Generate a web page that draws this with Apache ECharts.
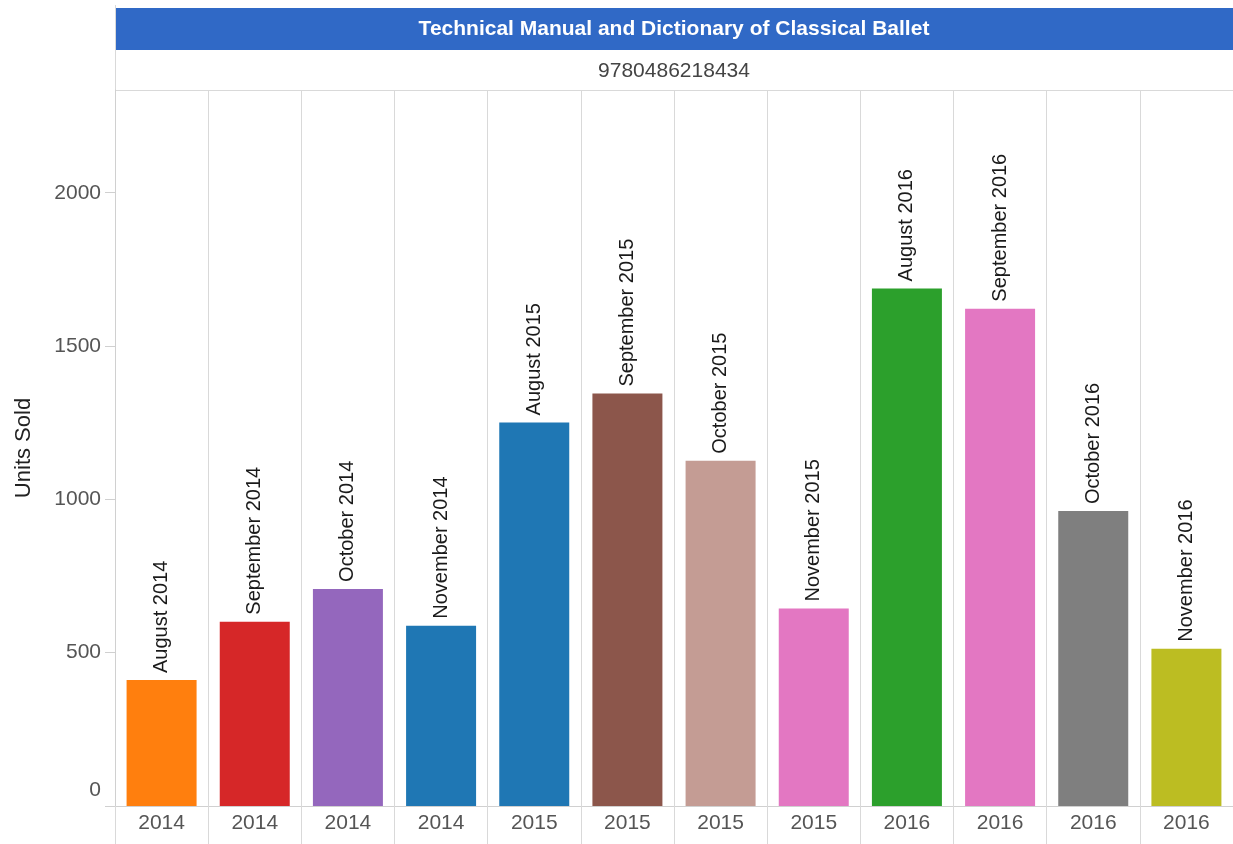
<!DOCTYPE html>
<html>
<head>
<meta charset="utf-8">
<script src="https://cdn.jsdelivr.net/npm/echarts@6/dist/echarts.min.js"></script>
<style>
html,body{margin:0;padding:0;background:#fff;}
#chart{width:1233px;height:844px;}
</style>
</head>
<body>
<div id="chart"></div>
<script>
const titleText = 'Technical Manual and Dictionary of Classical Ballet';
const subtitleText = '9780486218434';
const months = ['August 2014','September 2014','October 2014','November 2014',
                'August 2015','September 2015','October 2015','November 2015',
                'August 2016','September 2016','October 2016','November 2016'];
const years = ['2014','2014','2014','2014','2015','2015','2015','2015','2016','2016','2016','2016'];
const unitsSold = [411, 601, 708, 588, 1251, 1345, 1126, 644, 1688, 1622, 962, 513];
const barColors = ['#ff7f0e','#d62728','#9467bd','#1f77b4','#1f77b4','#8c564b',
                   '#c49c94','#e377c2','#2ca02c','#e377c2','#7f7f7f','#bcbd22'];
const yTicks = [0, 500, 1000, 1500, 2000];
const yAxisName = 'Units Sold';

const chart = echarts.init(document.getElementById('chart'));
const font = 'Arial, "Liberation Sans", sans-serif';

chart.setOption({
  animation: false,
  textStyle: { fontFamily: font },
  title: [
    { text: titleText, left: 674, top: 19, textAlign: 'center', padding: 0,
      textStyle: { color: '#fff', fontSize: 21, fontWeight: 'bold', fontFamily: font } },
    { text: subtitleText, left: 674, top: 61, textAlign: 'center', padding: 0,
      textStyle: { color: '#444', fontSize: 21, fontWeight: 'normal', fontFamily: font } }
  ],
  graphic: [
    { type: 'rect', z: -1, shape: { x: 115, y: 8, width: 1118, height: 42 }, style: { fill: '#3069c6' } },
    { type: 'line', shape: { x1: 115.5, y1: 5, x2: 115.5, y2: 90 }, style: { stroke: '#d9d9d9', lineWidth: 1 } },
    { type: 'line', shape: { x1: 115, y1: 90.5, x2: 1233, y2: 90.5 }, style: { stroke: '#d9d9d9', lineWidth: 1 } }
  ],
  grid: { left: 115, right: 0, top: 90, bottom: 38, containLabel: false },
  xAxis: {
    type: 'category',
    data: months,
    boundaryGap: true,
    axisLine: { show: true, lineStyle: { color: '#d0d0d0', width: 1 } },
    axisTick: { show: true, interval: 0, length: 38, lineStyle: { color: '#d9d9d9' } },
    splitLine: { show: true, interval: 0, lineStyle: { color: '#d9d9d9', width: 1 } },
    axisLabel: {
      interval: 0, margin: 7, color: '#555', fontSize: 21, fontFamily: font,
      formatter: (v, i) => years[i]
    }
  },
  yAxis: {
    type: 'value',
    min: 0,
    max: 2335,
    name: yAxisName,
    nameLocation: 'middle',
    nameRotate: 90,
    nameGap: 80,
    nameTextStyle: { color: '#222', fontSize: 22, fontFamily: font },
    axisLine: { show: true, lineStyle: { color: '#d0d0d0', width: 1 } },
    axisTick: { show: true, length: 10, customValues: yTicks, lineStyle: { color: '#d0d0d0' } },
    splitLine: { show: false },
    axisLabel: {
      customValues: yTicks,
      margin: 14, color: '#555', fontSize: 21, fontFamily: font,
      formatter: v => v === 0 ? '{z|0}' : String(v),
      rich: { z: { padding: [0, 0, 32, 0], fontSize: 21, color: '#555', fontFamily: font } }
    }
  },
  series: [{
    type: 'bar',
    barWidth: 70,
    data: unitsSold.map((v, i) => ({ value: v, itemStyle: { color: barColors[i] } })),
    label: {
      show: true,
      position: 'top',
      rotate: 90,
      align: 'left',
      verticalAlign: 'middle',
      distance: 7,
      color: '#1a1a1a',
      fontSize: 20,
      fontFamily: font,
      formatter: p => months[p.dataIndex]
    }
  }]
});
</script>
</body>
</html>
